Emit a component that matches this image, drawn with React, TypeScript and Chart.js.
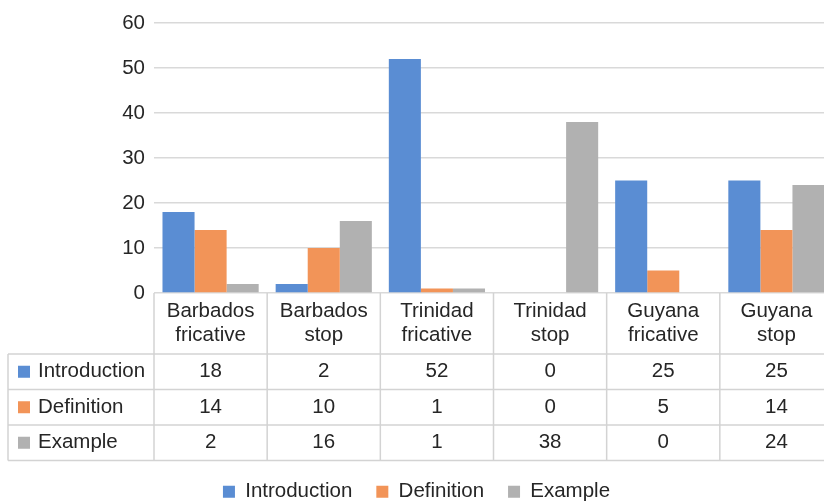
import React, { useEffect, useRef } from "react";
import { Chart, registerables } from "chart.js";

Chart.register(...registerables);

// Categories (two-line headers of the data table)
const categories: string[][] = [
  ["Barbados", "fricative"],
  ["Barbados", "stop"],
  ["Trinidad", "fricative"],
  ["Trinidad", "stop"],
  ["Guyana", "fricative"],
  ["Guyana", "stop"],
];

const seriesNames = ["Introduction", "Definition", "Example"];
const introduction = [18, 2, 52, 0, 25, 25];
const definition = [14, 10, 1, 0, 5, 14];
const example = [2, 16, 1, 38, 0, 24];
const seriesColors = ["#5a8dd3", "#f29458", "#b1b1b1"];
const yTicks = [0, 10, 20, 30, 40, 50, 60];

const FONT = "'Liberation Sans', Arial, Helvetica, sans-serif";
const FONT_SIZE = 20.5;
const TEXT = "#262626";
const LINE = "#d3d3d3";

// Data table drawn under the plot: header row uses the x-axis tick labels,
// followed by one row per series with a colour key.
const dataTablePlugin = {
  id: "dataTable",
  afterDraw(chart: any) {
    const { ctx, chartArea, scales } = chart;
    const x = scales.x;
    const n = chart.data.labels.length;
    const colW = (chartArea.right - chartArea.left) / n;
    const top = chartArea.bottom;
    const headerBottom = top + 61;
    const rowH = 35.5;
    const rows = chart.data.datasets.length;
    const bottom = headerBottom + rowH * rows;
    const tableLeft = 8;

    ctx.save();
    ctx.strokeStyle = LINE;
    ctx.lineWidth = 1.5;
    ctx.beginPath();
    // vertical column borders
    for (let i = 0; i <= n; i++) {
      const px = chartArea.left + i * colW;
      ctx.moveTo(px, top);
      ctx.lineTo(px, bottom);
    }
    ctx.moveTo(tableLeft, headerBottom);
    ctx.lineTo(tableLeft, bottom);
    // horizontal row borders
    for (let r = 0; r <= rows; r++) {
      const py = headerBottom + r * rowH;
      ctx.moveTo(tableLeft, py);
      ctx.lineTo(chartArea.right, py);
    }
    ctx.stroke();

    ctx.font = `${FONT_SIZE}px ${FONT}`;
    ctx.textBaseline = "middle";
    chart.data.datasets.forEach((ds: any, r: number) => {
      const cy = headerBottom + r * rowH + rowH / 2;
      // series key
      ctx.fillStyle = ds.backgroundColor;
      ctx.fillRect(18, cy - 6, 12, 12);
      ctx.fillStyle = TEXT;
      ctx.textAlign = "left";
      ctx.fillText(ds.label, 38, cy);
      // values
      ctx.textAlign = "center";
      ds.data.forEach((v: number, i: number) => {
        ctx.fillText(String(v), x.getPixelForValue(i), cy);
      });
    });
    ctx.restore();
  },
};

export default function App() {
  const canvasRef = useRef<HTMLCanvasElement | null>(null);

  useEffect(() => {
    if (!canvasRef.current) return;
    const values = [introduction, definition, example];
    const chart = new Chart(canvasRef.current, {
      type: "bar",
      data: {
        labels: categories,
        datasets: seriesNames.map((name, i) => ({
          label: name,
          data: values[i],
          backgroundColor: seriesColors[i],
          borderWidth: 0,
          categoryPercentage: 0.85,
          barPercentage: 1,
        })),
      },
      options: {
        responsive: false,
        animation: false,
        layout: { padding: { top: 23, right: 7, left: 0, bottom: 0 } },
        plugins: {
          title: { display: false },
          tooltip: { enabled: false },
          legend: {
            position: "bottom",
            labels: {
              boxWidth: 12,
              boxHeight: 12,
              padding: 24,
              color: TEXT,
              font: { family: FONT, size: FONT_SIZE },
            },
          },
        },
        scales: {
          x: {
            grid: { display: false, drawTicks: false },
            border: { display: false },
            ticks: {
              color: TEXT,
              padding: 6,
              maxRotation: 0,
              autoSkip: false,
              font: { family: FONT, size: FONT_SIZE, lineHeight: "24px" },
            },
            afterFit: (scale: any) => {
              scale.height = 164.5;
            },
          },
          y: {
            min: yTicks[0],
            max: yTicks[yTicks.length - 1],
            grid: { color: "#d9d9d9", lineWidth: 1.5, drawTicks: false },
            border: { display: false },
            ticks: {
              stepSize: 10,
              padding: 9,
              color: TEXT,
              font: { family: FONT, size: FONT_SIZE },
            },
            afterFit: (scale: any) => {
              scale.width = 154;
            },
          },
        },
      },
      plugins: [dataTablePlugin],
    });
    return () => chart.destroy();
  }, []);

  return (
    <div
      style={{
        position: "absolute",
        left: 0,
        top: 0,
        width: 824,
        height: 501,
        overflow: "hidden",
        background: "#fff",
      }}
    >
      <canvas
        ref={canvasRef}
        width={840}
        height={512}
        style={{ display: "block", width: 840, height: 512 }}
      />
    </div>
  );
}
